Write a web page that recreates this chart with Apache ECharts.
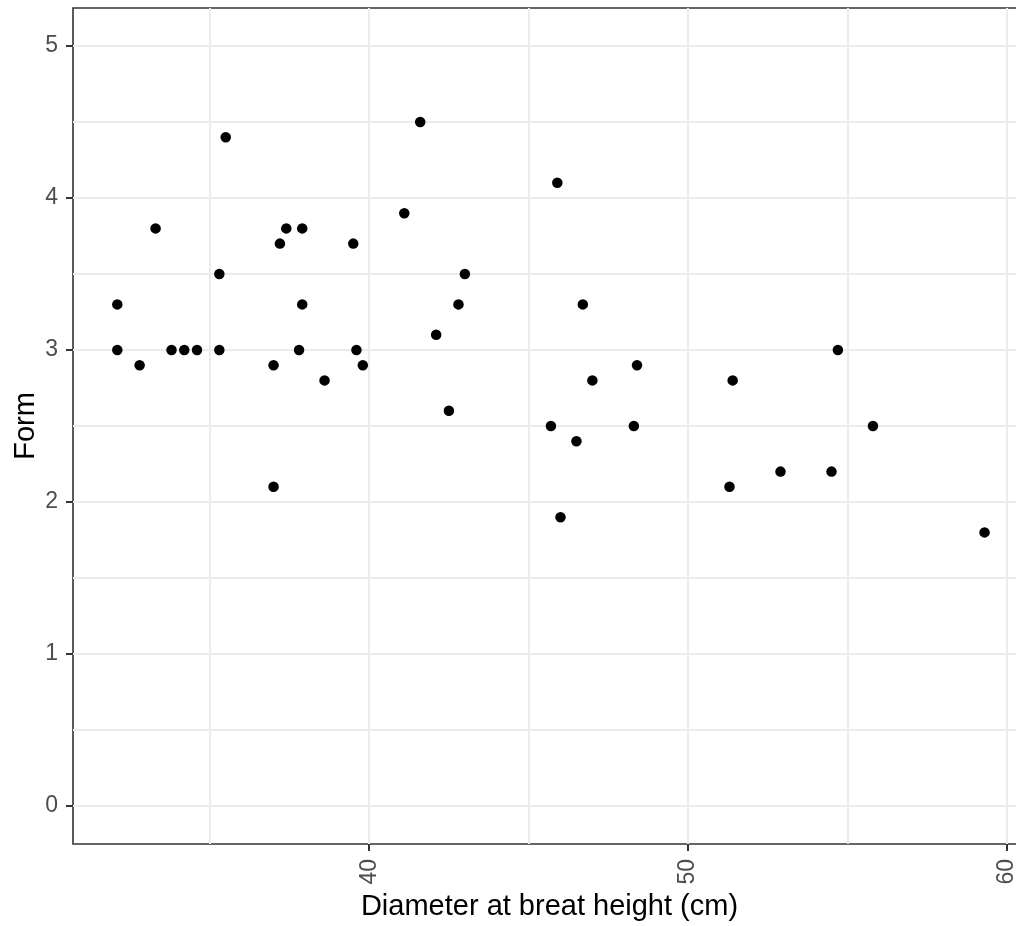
<!DOCTYPE html>
<html>
<head>
<meta charset="utf-8">
<script src="https://cdn.jsdelivr.net/npm/echarts@6/dist/echarts.min.js"></script>
<style>
html,body{margin:0;padding:0;background:#fff;}
#chart{width:1016px;height:926px;}
</style>
</head>
<body>
<div id="chart"></div>
<script>
// Data
const dbh = [32.1, 32.1, 32.8, 33.3, 33.8, 34.2, 34.6, 35.5, 35.3, 35.3,
  37.0, 37.0, 37.2, 37.4, 37.9, 37.9, 37.8, 38.6, 39.5, 39.6,
  39.8, 41.1, 41.6, 42.1, 42.5, 42.8, 43.0, 45.9, 45.7, 46.0,
  46.5, 46.7, 47.0, 48.3, 48.4, 51.3, 51.4, 52.9, 54.5, 54.7,
  55.8, 59.3];
const form = [3.3, 3.0, 2.9, 3.8, 3.0, 3.0, 3.0, 4.4, 3.5, 3.0,
  2.9, 2.1, 3.7, 3.8, 3.8, 3.3, 3.0, 2.8, 3.7, 3.0,
  2.9, 3.9, 4.5, 3.1, 2.6, 3.3, 3.5, 4.1, 2.5, 1.9,
  2.4, 3.3, 2.8, 2.5, 2.9, 2.1, 2.8, 2.2, 2.2, 3.0,
  2.5, 1.8];
const xTickLabels = [40, 50, 60];
const xGridValues = [35, 40, 45, 50, 55, 60];
const yTickLabels = [0, 1, 2, 3, 4, 5];
const yGridValues = [0, 0.5, 1, 1.5, 2, 2.5, 3, 3.5, 4, 4.5, 5];
const xTitle = 'Diameter at breat height (cm)';
const yTitle = 'Form';

const points = dbh.map((d, i) => [d, form[i]]);
const FONT = '"Liberation Sans", Arial, sans-serif';
const X_MIN = 30.71, X_MAX = 60.6, Y_MIN = -0.25, Y_MAX = 5.25;

const chart = echarts.init(document.getElementById('chart'), null, {renderer: 'canvas'});
chart.setOption({
  animation: false,
  backgroundColor: '#ffffff',
  grid: {
    left: 73, right: -10, top: 8, bottom: 82,
    show: true, borderColor: '#333333', borderWidth: 1.6,
    backgroundColor: 'transparent', containLabel: false, outerBoundsMode: 'none'
  },
  xAxis: [
    {
      type: 'value', min: X_MIN, max: X_MAX, position: 'bottom',
      axisLine: {show: false, onZero: false},
      axisTick: {show: false, customValues: xGridValues},
      axisLabel: {show: false},
      splitLine: {show: true, lineStyle: {color: '#ebebeb', width: 2}}
    },
    {
      type: 'value', min: X_MIN, max: X_MAX, position: 'bottom',
      axisLine: {show: false, onZero: false},
      axisTick: {show: true, inside: false, customValues: xTickLabels, length: 7, lineStyle: {color: '#333333', width: 2}},
      axisLabel: {show: true, customValues: xTickLabels, rotate: 90, margin: 15,
        color: '#4d4d4d', fontSize: 23, fontFamily: FONT},
      splitLine: {show: false},
      name: xTitle, nameLocation: 'middle', nameGap: 48, nameMoveOverlap: false,
      nameTextStyle: {color: '#000000', fontSize: 29, fontFamily: FONT}
    }
  ],
  yAxis: [
    {
      type: 'value', min: Y_MIN, max: Y_MAX, position: 'left',
      axisLine: {show: false, onZero: false},
      axisTick: {show: false, customValues: yGridValues},
      axisLabel: {show: false},
      splitLine: {show: true, lineStyle: {color: '#ebebeb', width: 2}}
    },
    {
      type: 'value', min: Y_MIN, max: Y_MAX, position: 'left',
      axisLine: {show: false, onZero: false},
      axisTick: {show: true, inside: false, customValues: yTickLabels, length: 7, lineStyle: {color: '#333333', width: 2}},
      axisLabel: {show: true, customValues: yTickLabels, margin: 15,
        color: '#4d4d4d', fontSize: 23, fontFamily: FONT},
      splitLine: {show: false},
      name: yTitle, nameLocation: 'middle', nameGap: 33, nameMoveOverlap: false,
      nameTextStyle: {color: '#000000', fontSize: 29, fontFamily: FONT}
    }
  ],
  series: [{
    type: 'scatter',
    xAxisIndex: 0, yAxisIndex: 0,
    data: points,
    symbol: 'circle', symbolSize: 10.5,
    itemStyle: {color: '#000000', opacity: 1},
    silent: true
  }]
});
</script>
</body>
</html>
